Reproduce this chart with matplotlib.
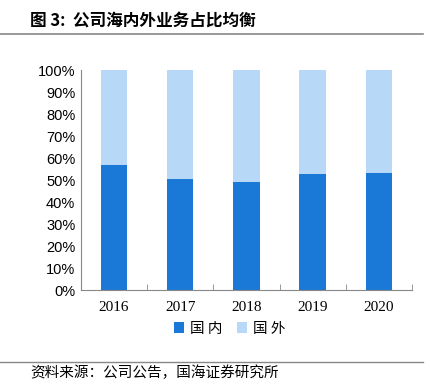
import matplotlib.pyplot as plt
import numpy as np

years = ['2016', '2017', '2018', '2019', '2020']
domestic = [56.8, 50.5, 49.1, 52.7, 53.2]
overseas = [100 - v for v in domestic]

plt.rcParams['font.family'] = ['Noto Sans CJK SC', 'DejaVu Sans']

fig = plt.figure(figsize=(4.3, 3.92), dpi=100)
ax = fig.add_axes([0.188, 0.260, 0.770, 0.561])

x = np.arange(len(years))
ax.bar(x, domestic, width=0.4, color='#1a78d6', label='国 内')
ax.bar(x, overseas, width=0.4, bottom=domestic, color='#b8d8f8', label='国 外')

ax.set_xlim(-0.5, len(years) - 0.5)
ax.set_ylim(0, 100)
ax.set_yticks(range(0, 101, 10))
ax.set_yticklabels([f'{v}%' for v in range(0, 101, 10)],
                   family='Liberation Sans', fontsize=10.5)
ax.set_xticks(x)
ax.set_xticklabels(years, family='Liberation Serif', fontsize=11)
ax.tick_params(axis='x', length=0, pad=8)
ax.tick_params(axis='y', length=0, pad=4)
ax.set_xticks(np.arange(-0.5, len(years)), minor=True)
ax.tick_params(axis='x', which='minor', direction='in', length=4, color='#888888')

for s in ['top', 'right']:
    ax.spines[s].set_visible(False)
for s in ['left', 'bottom']:
    ax.spines[s].set_color('#888888')

ax.legend(loc='center', bbox_to_anchor=(0.45, -0.175), ncol=2, frameon=False,
          fontsize=10.5, handlelength=0.7, handleheight=0.7, handletextpad=0.4,
          columnspacing=1.0)

fig.text(0.07, 0.948, '图 3:  公司海内外业务占比均衡', fontsize=12,
         fontweight='bold', va='center')
fig.add_artist(plt.Line2D([0.0, 0.984], [0.913, 0.913], color='#888888', lw=1.2))
fig.add_artist(plt.Line2D([0.0, 0.984], [0.076, 0.076], color='#888888', lw=1))
fig.text(0.07, 0.048, '资料来源：公司公告，国海证券研究所', fontsize=10.5, va='center')

fig.savefig('out.png', dpi=100)
